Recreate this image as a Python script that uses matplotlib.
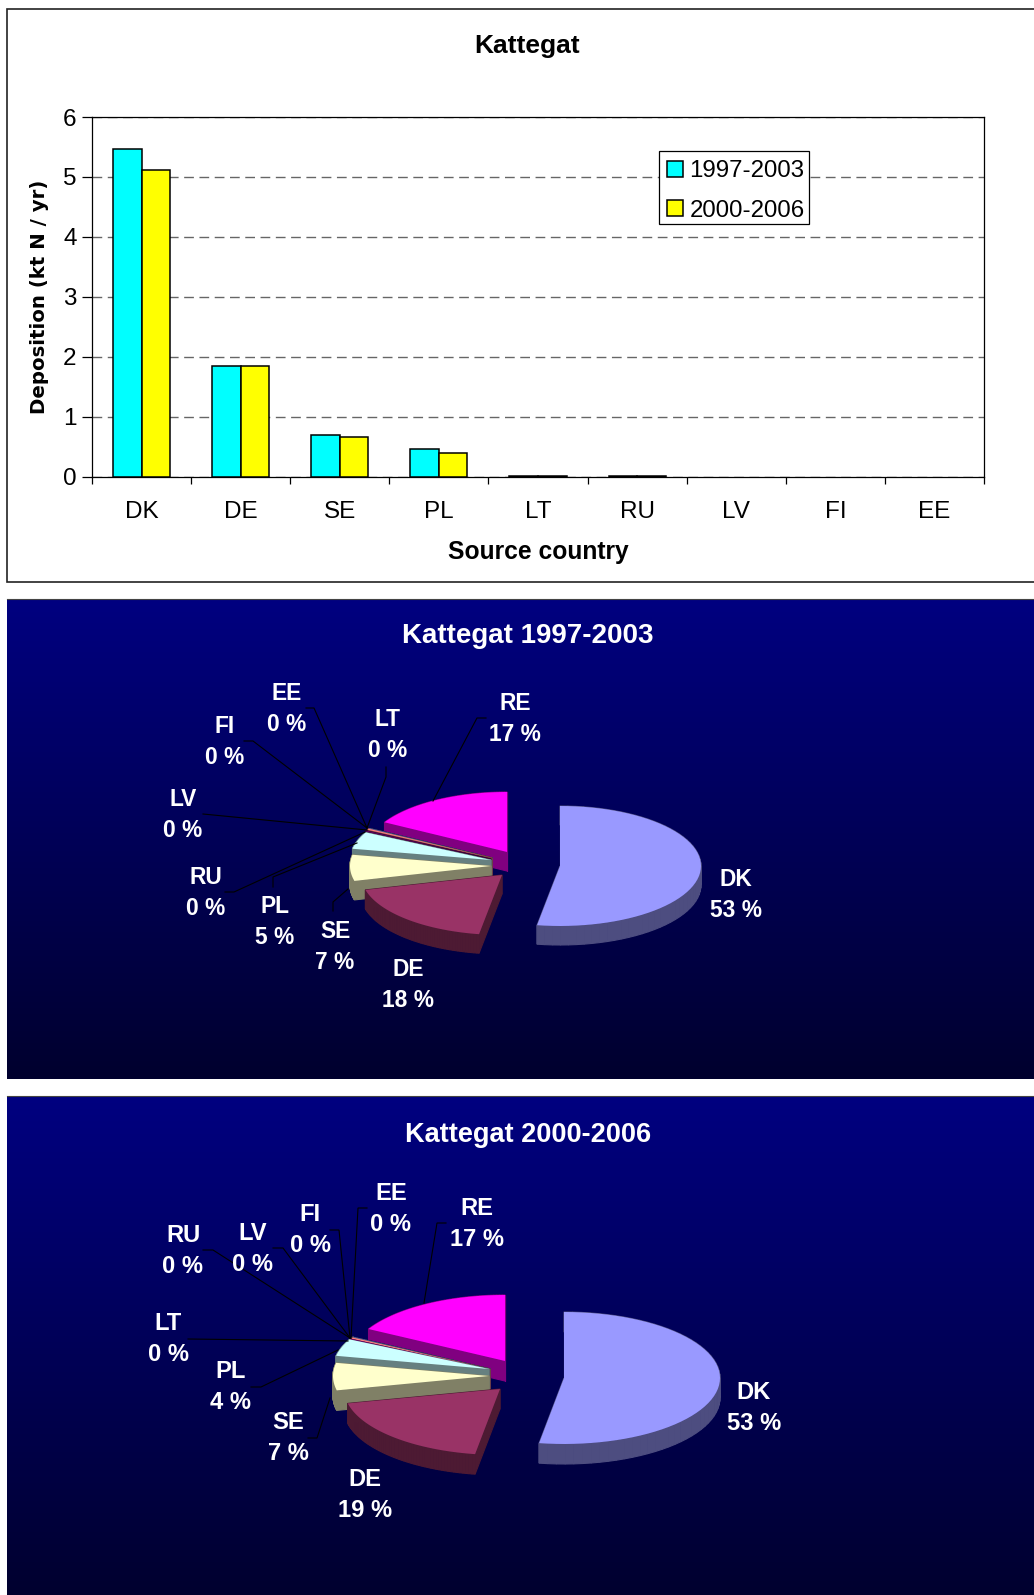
"""Kattegat nitrogen deposition: bar chart plus two exploded pseudo-3D pies."""
import numpy as np
import matplotlib
matplotlib.use("Agg")
import matplotlib.pyplot as plt
from matplotlib.colors import LinearSegmentedColormap, to_rgb
from matplotlib.patches import Polygon, Rectangle

plt.rcParams["font.family"] = ["Liberation Sans", "DejaVu Sans"]

W, H = 1034, 1595

# --- data -------------------------------------------------------------------
countries = ["DK", "DE", "SE", "PL", "LT", "RU", "LV", "FI", "EE"]
dep_9703 = [5.47, 1.84, 0.70, 0.47, 0.02, 0.02, 0, 0, 0]
dep_0006 = [5.11, 1.84, 0.67, 0.39, 0.02, 0.02, 0, 0, 0]

pie_names = ["DK", "DE", "SE", "PL", "LT", "RU", "LV", "FI", "EE", "RE"]
share_9703 = [52.6, 18.4, 7.0, 4.6, 0.2, 0.3, 0.05, 0.05, 0.05, 16.75]
share_0006 = [52.55, 18.95, 6.7, 4.2, 0.2, 0.3, 0.05, 0.05, 0.05, 16.95]

# Excel's default chart palette
PIE_COLORS = ["#9999ff", "#993366", "#ffffcc", "#ccffff", "#660066",
              "#ff8080", "#0066cc", "#ccccff", "#000080", "#ff00ff"]

# --- layout, in image pixels ------------------------------------------------
APEX_1 = {"DK": (560, 866), "DE": (502, 875), "SE": (491, 866), "PL": (491, 860),
          "LT": (491, 859), "RU": (492, 858), "LV": (492, 858), "FI": (492, 858),
          "EE": (492, 858), "RE": (507, 852)}
APEX_2 = {"DK": (564, 1378), "DE": (500, 1389), "SE": (489, 1376), "PL": (489, 1369),
          "LT": (489, 1369), "RU": (490, 1369), "LV": (490, 1369), "FI": (490, 1369),
          "EE": (490, 1369), "RE": (505, 1361)}

LABELS_1 = {"DK": (736, 895), "DE": (408, 985), "SE": (335, 947), "PL": (275, 922),
            "LT": (388, 735), "RU": (206, 893), "LV": (183, 815), "FI": (225, 742),
            "EE": (287, 709), "RE": (515, 719)}
LABELS_2 = {"DK": (754, 1408), "DE": (365, 1495), "SE": (288, 1438), "PL": (231, 1387),
            "LT": (168, 1339), "RU": (183, 1251), "LV": (253, 1249), "FI": (310, 1230),
            "EE": (391, 1209), "RE": (477, 1224)}

LEADERS_1 = [[(306, 708), (314, 708), (367, 828)],
             [(244, 741), (253, 741), (367, 828)],
             [(386, 767), (386, 777), (367, 828)],
             [(203, 814), (367, 830)],
             [(225, 892), (234, 892), (365, 832)],
             [(273, 887), (273, 877), (357, 843)],
             [(333, 911), (333, 902), (348, 889)],
             [(486, 718), (477, 718), (433, 801)]]
LEADERS_2 = [[(203, 1250), (213, 1250), (350, 1338)],
             [(273, 1248), (283, 1248), (350, 1338)],
             [(330, 1230), (339, 1230), (350, 1338)],
             [(367, 1208), (358, 1208), (351, 1338)],
             [(446, 1223), (437, 1223), (424, 1303)],
             [(188, 1339), (348, 1341)],
             [(251, 1387), (261, 1387), (338, 1350)],
             [(308, 1438), (317, 1438), (330, 1398)]]


def shade(color, f=0.5):
    return tuple(c * f for c in to_rgb(color))


def draw_pie(ax, shares, apexes, rx, ry, depth, zorder=3):
    """Pie from the shares, clockwise from 12 o'clock, with a downward wall."""
    stops = np.cumsum([0] + list(shares)) / np.sum(shares) * 2 * np.pi
    # back to front: RE first, DK last
    for i in range(len(shares) - 1, -1, -1):
        cx, cy = apexes[pie_names[i]]
        th = np.linspace(stops[i], stops[i + 1], 60)
        xs = np.r_[cx, cx + rx * np.sin(th)]
        ys = np.r_[cy, cy - ry * np.cos(th)]
        pts = np.c_[xs, ys]
        wall = shade(PIE_COLORS[i])
        for a, b in zip(pts, np.roll(pts, -1, axis=0)):
            quad = [a, b, b + (0, depth), a + (0, depth)]
            ax.add_patch(Polygon(quad, closed=True, fc=wall, ec=wall, lw=0.8, zorder=zorder))
        ax.add_patch(Polygon(pts, closed=True, fc=PIE_COLORS[i], ec="none", zorder=zorder + 0.5))


def draw_panel(ax, top, bottom, title, title_x, title_y, title_size, shares, apexes, labels,
               leaders, rx, ry, depth, size, spacing):
    # gradient goes on running below the image edge for the last panel
    ax.imshow(np.linspace(0, 1, 256)[:, None], cmap=NAVY, vmin=0, vmax=1, aspect="auto",
              extent=(7, W + 5, bottom, top), zorder=1, interpolation="bilinear")
    ax.plot([7, W], [top, top], color="#444444", lw=0.8, zorder=2)
    ax.text(title_x, title_y, title, color="white", fontsize=title_size, fontweight="bold",
            ha="center", va="center", zorder=6)
    draw_pie(ax, shares, apexes, rx, ry, depth)
    for line in leaders:
        ax.plot(*zip(*line), color="black", lw=0.8, zorder=5, solid_joinstyle="miter")
    for name, share in zip(pie_names, shares):
        x, y = labels[name]
        ax.text(x, y, f"{name}\n{round(share)} %", color="white", fontsize=size,
                fontweight="bold", ha="center", va="center", linespacing=spacing, zorder=6)


NAVY = LinearSegmentedColormap.from_list("navy", ["#000080", "#00002e"])

fig = plt.figure(figsize=(W / 100, H / 100), dpi=100, facecolor="white")

# full-figure pixel canvas
bg = fig.add_axes([0, 0, 1, 1])
bg.set_xlim(0, W)
bg.set_ylim(H, 0)
bg.axis("off")

bg.add_patch(Rectangle((7, 9), W + 5, 573, fc="white", ec="#222222", lw=1.2, zorder=1))
bg.text(527, 46.5, "Kattegat", fontsize=19, fontweight="bold", ha="center", va="center", zorder=6)

draw_panel(bg, 599, 1079, "Kattegat 1997-2003", 528, 636, 20, share_9703, APEX_1, LABELS_1,
           LEADERS_1, 141, 60, 19, 16.4, 1.44)
draw_panel(bg, 1096, 1600, "Kattegat 2000-2006", 528, 1135, 19.5, share_0006, APEX_2, LABELS_2,
           LEADERS_2, 156, 66, 20, 17.1, 1.43)
bg.set_xlim(0, W)
bg.set_ylim(H, 0)

# --- bar chart --------------------------------------------------------------
L, R, T, B = 92, 984, 117, 476.7
ax = fig.add_axes([L / W, 1 - B / H, (R - L) / W, (B - T) / H])
ax.set_facecolor("none")
pos = np.arange(len(countries))
bw = 0.288
bars_a = ax.bar(pos - bw / 2, dep_9703, bw, color="#00ffff", edgecolor="black", lw=1.1,
                label="1997-2003", zorder=3)
bars_b = ax.bar(pos + bw / 2, dep_0006, bw, color="#ffff00", edgecolor="black", lw=1.1,
                label="2000-2006", zorder=3)
for bar in list(bars_a) + list(bars_b):
    if bar.get_height() == 0:
        bar.set_visible(False)
ax.set_xlim(-0.5, len(countries) - 0.5)
ax.set_ylim(0, 6)
ax.set_yticks(range(7))
ax.set_xticks(np.arange(len(countries) + 1) - 0.5)
ax.set_xticklabels([])
ax.set_xticks(pos, countries, minor=True)
ax.tick_params(axis="x", which="major", length=5, width=0.9, direction="out")
ax.tick_params(axis="x", which="minor", length=0, pad=17.7, labelsize=17.5)
ax.tick_params(axis="y", length=7, width=0.9, labelsize=17.5, pad=4)
ax.grid(axis="y", color="#666666", ls=(0, (7, 4)), lw=1.0, zorder=1)
for s in ax.spines.values():
    s.set_linewidth(0.9)

# legend box is drawn by hand, its margins are not even
ax.add_patch(Rectangle(((659 - L) / (R - L), (B - 224) / (B - T)), 150 / (R - L), 73 / (B - T),
                       transform=ax.transAxes, fc="white", ec="black", lw=0.9, zorder=4))
leg = ax.legend(loc="upper left", bbox_to_anchor=((667 - L) / (R - L), (B - 160) / (B - T)),
                frameon=False, fontsize=17.3, handlelength=0.65, handleheight=0.65,
                handletextpad=0.29, labelspacing=0.73, borderpad=0, borderaxespad=0)
leg.set_zorder(5)

bg.text(40, 297, "Deposition (kt N / yr)", rotation=90, fontsize=14.2, fontweight="bold",
        ha="center", va="center", family=["DejaVu Sans"], zorder=6)
bg.text(538, 552, "Source country", fontsize=17.7, fontweight="bold", ha="center", va="center",
        zorder=6)

fig.savefig("out.png", dpi=100, facecolor="white")
